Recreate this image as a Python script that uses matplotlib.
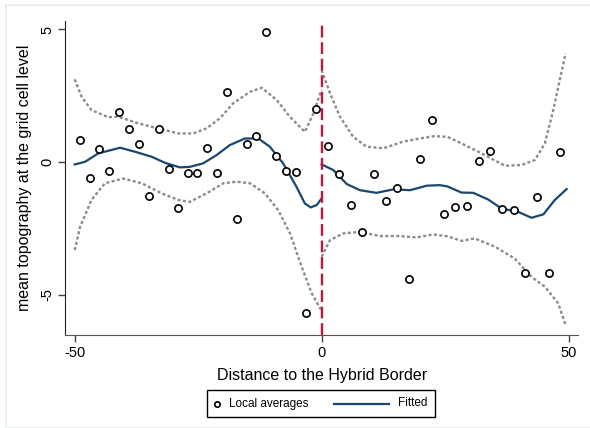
import matplotlib.pyplot as plt
from matplotlib.lines import Line2D
from matplotlib.patches import Rectangle

plt.rcParams['font.family'] = ['Liberation Sans', 'DejaVu Sans']

# local averages (binned means)
bin_x = [-49.0, -47.0, -45.0, -43.1, -41.1, -39.1, -37.0, -35.0, -33.0, -31.0,
         -29.0, -27.1, -25.2, -23.2, -21.1, -19.1, -17.1, -15.1, -13.2, -11.2,
         -9.2, -7.2, -5.2, -3.2, -1.2,
         1.2, 3.6, 5.9, 8.2, 10.6, 13.0, 15.3, 17.6, 20.0, 22.3, 24.8,
         27.0, 29.4, 31.8, 34.1, 36.5, 38.9, 41.2, 43.6, 46.0, 48.3]
bin_y = [0.84, -0.60, 0.50, -0.35, 1.89, 1.23, 0.70, -1.27, 1.25, -0.25,
         -1.75, -0.40, -0.42, 0.54, -0.40, 2.63, -2.14, 0.67, 0.97, 4.92,
         0.24, -0.35, -0.38, -5.69, 2.01,
         0.59, -0.44, -1.61, -2.64, -0.45, -1.47, -0.97, -4.40, 0.13, 1.58, -1.97,
         -1.69, -1.67, 0.05, 0.40, -1.76, -1.80, -4.18, -1.30, -4.20, 0.39]

# fitted polynomial, left of the border
fitL_x = [-50, -47.9, -45.2, -40.8, -37.8, -34.4, -31.7, -28.7, -26.7, -24.0,
          -21.3, -18.6, -15.5, -12.8, -10.5, -7.8, -5.1, -3.4, -2.2, -1.0, 0]
fitL_y = [-0.09, 0.01, 0.33, 0.54, 0.39, 0.20, -0.03, -0.20, -0.18, -0.05,
          0.26, 0.64, 0.89, 0.89, 0.58, -0.05, -0.93, -1.56, -1.71, -1.62, -1.37]
hiL_x = [-50, -48.6, -46.6, -43.2, -41.2, -37.1, -33.1, -29.0, -26.0, -23.3,
         -20.6, -17.9, -14.5, -12.1, -9.1, -6.4, -3.4, -1.5, -0.2, 0]
hiL_y = [3.12, 2.46, 1.96, 1.69, 1.71, 1.46, 1.27, 1.08, 1.08, 1.27,
         1.65, 2.22, 2.65, 2.80, 2.34, 1.70, 1.14, 1.90, 2.65, 2.72]
loL_x = [-50, -48.9, -46.6, -43.9, -40.2, -36.4, -32.4, -29.0, -26.7, -23.3,
         -19.9, -17.2, -14.5, -11.5, -8.8, -6.4, -4.05, -2.0, -0.3, 0]
loL_y = [-3.32, -2.44, -1.43, -0.80, -0.62, -0.80, -1.18, -1.43, -1.50, -1.18,
         -0.80, -0.74, -0.80, -1.18, -1.81, -2.69, -3.95, -4.95, -5.52, -5.52]

# fitted polynomial, right of the border
fitR_x = [0, 2.35, 5.1, 7.75, 11.1, 14.5, 17.9, 21.3, 23.9, 25.5, 28.3, 30.7,
          33.7, 36.4, 39.8, 42.5, 44.9, 47.2, 49.6]
fitR_y = [-0.09, -0.30, -0.83, -1.06, -1.16, -1.03, -1.06, -0.89, -0.87, -0.92,
          -1.15, -1.16, -1.41, -1.75, -1.88, -2.10, -1.97, -1.43, -1.02]
hiR_x = [0, 1.7, 3.7, 6.4, 9.1, 12.5, 16.5, 19.9, 22.9, 25.5, 29.0, 33.1,
         37.1, 40.5, 43.2, 45.2, 46.9, 48.2, 49.4]
hiR_y = [3.47, 2.59, 1.71, 0.95, 0.58, 0.52, 0.77, 0.89, 0.98, 0.95, 0.64, 0.26,
         -0.14, -0.11, 0.08, 0.71, 1.96, 3.09, 4.10]
loR_x = [0, 1.7, 4.4, 7.75, 11.8, 15.85, 19.2, 22.6, 25.5, 28.3, 31.0, 35.1,
         39.1, 42.5, 45.2, 47.9, 49.4]
loR_y = [-3.57, -2.94, -2.69, -2.63, -2.79, -2.79, -2.84, -2.73, -2.80, -2.97,
         -2.88, -3.19, -3.64, -4.33, -4.70, -5.33, -6.15]

legend_labels = ['Local averages', 'Fitted']

navy = '#1a476f'
ci_col = '#8c8c8c'
W, H = 590, 428

fig = plt.figure(figsize=(5.9, 4.28), dpi=100)
fig.patches.append(Rectangle((6 / W, 0), 1, 1 - 5 / H, transform=fig.transFigure,
                             fill=False, edgecolor='#e6ecec', lw=1.2))
ax = fig.add_axes([65.3 / W, 1 - 335 / H, (578 - 65.3) / W, (335 - 20.7) / H])

dot = (0, (1.3, 1.0))
for xs, ys in [(hiL_x, hiL_y), (loL_x, loL_y), (hiR_x, hiR_y), (loR_x, loR_y)]:
    ax.plot(xs, ys, color=ci_col, lw=1.7, linestyle=dot)
ax.plot(fitL_x, fitL_y, color=navy, lw=1.6)
ax.plot(fitR_x, fitR_y, color=navy, lw=1.6)
ax.plot(bin_x, bin_y, 'o', mfc='white', mec='black', mew=1.2, ms=5.2, zorder=4)
ax.axvline(0, color='#c8143c', lw=1.7, linestyle=(0, (5, 2)), zorder=3)

ax.set_xlim(-51.9, 51.9)
ax.set_ylim(-6.52, 5.33)
ax.set_xticks([-50, 0, 50])
ax.set_yticks([-5, 0, 5])
ax.set_xticklabels(['-50', '0', '50'])
ax.set_yticklabels(['-5', '0', '5'], rotation=90, va='center')
ax.tick_params(axis='both', labelsize=10.5, length=5, width=1, color='#444444', pad=3)
for s in ['top', 'right']:
    ax.spines[s].set_visible(False)
ax.spines['left'].set_color('#222222')
ax.spines['bottom'].set_color('#555555')
ax.set_xlabel('Distance to the Hybrid Border', fontsize=11.5, labelpad=6)
ax.set_ylabel('mean topography at the grid cell level', fontsize=11.5, labelpad=6)

# Stata-style legend box below the plot, laid out by hand in pixel units
ly = 1 - 403.5 / H
fig.patches.append(Rectangle((207 / W, 1 - 417 / H), 228 / W, 27 / H,
                             transform=fig.transFigure, fill=False,
                             edgecolor='black', lw=1.0))
fig.lines.append(Line2D([217 / W], [ly], transform=fig.transFigure, marker='o',
                        ls='none', mfc='white', mec='black', mew=1.2, ms=3.9))
fig.text(229 / W, ly, legend_labels[0], fontsize=8.5, va='center', ha='left')
fig.lines.append(Line2D([334 / W, 389 / W], [ly, ly], transform=fig.transFigure,
                        color=navy, lw=1.6))
fig.text(398 / W, ly, legend_labels[1], fontsize=8.5, va='center', ha='left')

fig.savefig('out.png', dpi=100)
